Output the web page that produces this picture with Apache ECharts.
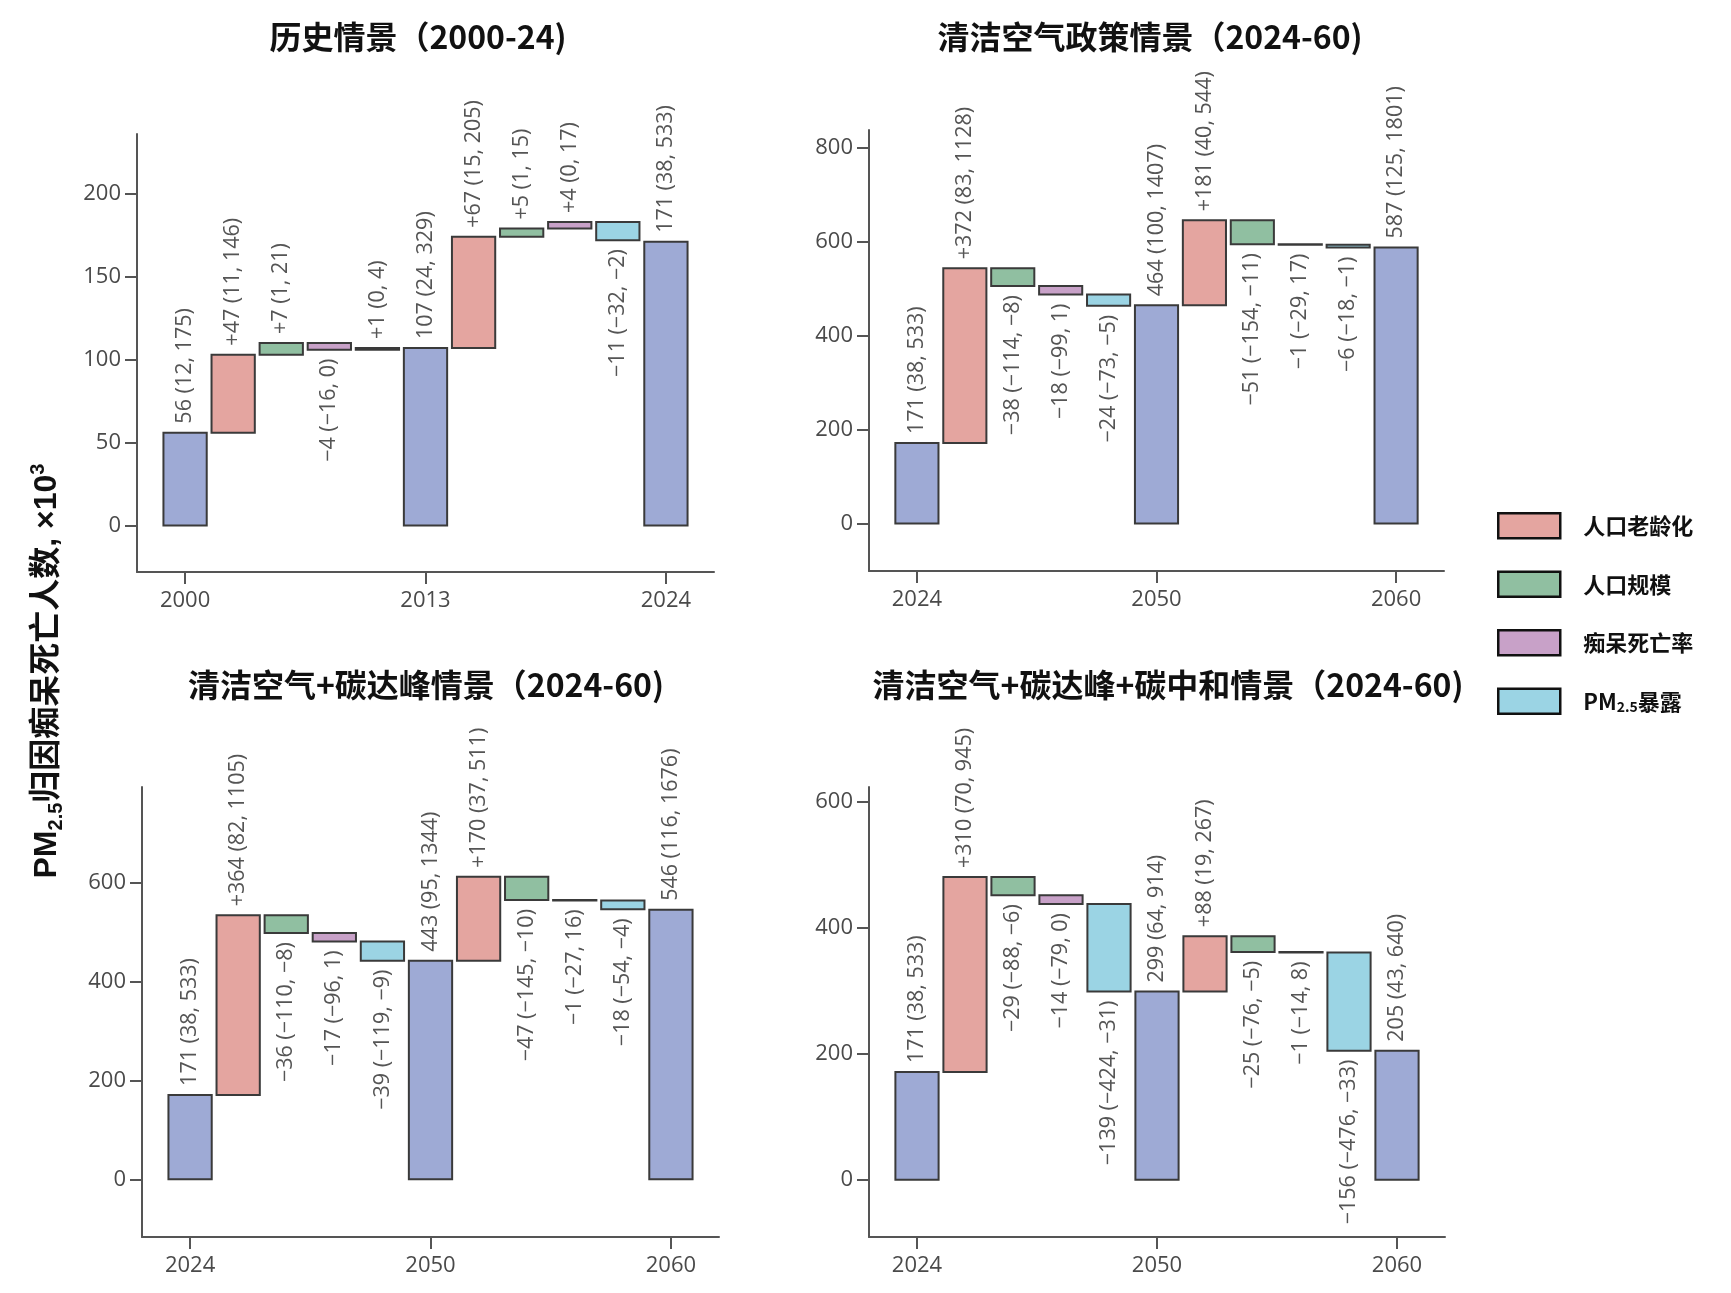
<!DOCTYPE html>
<html>
<head>
<meta charset="utf-8">
<script src="https://cdn.jsdelivr.net/npm/echarts@6/dist/echarts.min.js"></script>
<style>
html, body { margin: 0; padding: 0; background: #fff; }
#main { width: 1731px; height: 1293px; }
</style>
</head>
<body>
<div id="main"></div>
<script>
// order of the bars inside every panel
var kinds = ['total', 'aging', 'pop', 'mort', 'pm', 'total', 'aging', 'pop', 'mort', 'pm', 'total'];
var kindNames = { total: '总数', aging: '人口老龄化', pop: '人口规模', mort: '痴呆死亡率', pm: 'PM2.5暴露' };
var legendNames = ['人口老龄化', '人口规模', '痴呆死亡率', 'PM2.5暴露'];

// 历史情景 (2000-24)
var hist_years = ['2000', '2013', '2024'];
var hist_mid = [56, 47, 7, -4, 1, 107, 67, 5, 4, -11, 171];
var hist_lo  = [12, 11, 1, -16, 0, 24, 15, 1, 0, -32, 38];
var hist_hi  = [175, 146, 21, 0, 4, 329, 205, 15, 17, -2, 533];
var hist_ticks = [0, 50, 100, 150, 200];

// 清洁空气政策情景 (2024-60)
var scen_years = ['2024', '2050', '2060'];
var clean_mid = [171, 372, -38, -18, -24, 464, 181, -51, -1, -6, 587];
var clean_lo  = [38, 83, -114, -99, -73, 100, 40, -154, -29, -18, 125];
var clean_hi  = [533, 1128, -8, 1, -5, 1407, 544, -11, 17, -1, 1801];
var clean_ticks = [0, 200, 400, 600, 800];

// 清洁空气+碳达峰情景 (2024-60)
var peak_mid = [171, 364, -36, -17, -39, 443, 170, -47, -1, -18, 546];
var peak_lo  = [38, 82, -110, -96, -119, 95, 37, -145, -27, -54, 116];
var peak_hi  = [533, 1105, -8, 1, -9, 1344, 511, -10, 16, -4, 1676];
var peak_ticks = [0, 200, 400, 600];

// 清洁空气+碳达峰+碳中和情景 (2024-60)
var neutral_mid = [171, 310, -29, -14, -139, 299, 88, -25, -1, -156, 205];
var neutral_lo  = [38, 70, -88, -79, -424, 64, 19, -76, -14, -476, 43];
var neutral_hi  = [533, 945, -6, 0, -31, 914, 267, -5, 8, -33, 640];
var neutral_ticks = [0, 200, 400, 600];

var colors = {
  total: '#9eaad5',
  aging: '#e4a5a0',
  pop: '#90bfa1',
  mort: '#c8a1c8',
  pm: '#9bd4e4'
};

var panels = [
  { title: '历史情景（2000-24)', years: hist_years, mid: hist_mid, lo: hist_lo, hi: hist_hi, ticks: hist_ticks,
    ymin: -28, ymax: 236, grid: { left: 137, top: 134, width: 577, height: 438 }, tx: 418, ty: 21 },
  { title: '清洁空气政策情景（2024-60)', years: scen_years, mid: clean_mid, lo: clean_lo, hi: clean_hi, ticks: clean_ticks,
    ymin: -101, ymax: 837, grid: { left: 869, top: 130, width: 575, height: 441 }, tx: 1150, ty: 21 },
  { title: '清洁空气+碳达峰情景（2024-60)', years: scen_years, mid: peak_mid, lo: peak_lo, hi: peak_hi, ticks: peak_ticks,
    ymin: -117, ymax: 795, grid: { left: 142, top: 787, width: 577, height: 450 }, tx: 426, ty: 669 },
  { title: '清洁空气+碳达峰+碳中和情景（2024-60)', years: scen_years, mid: neutral_mid, lo: neutral_lo, hi: neutral_hi, ticks: neutral_ticks,
    ymin: -91, ymax: 624, grid: { left: 869, top: 787, width: 576, height: 450 }, tx: 1168, ty: 669 }
];

function fmt(v) {
  return v < 0 ? '\u2212' + Math.abs(v) : String(v);
}

function labelText(p, i) {
  var head;
  if (kinds[i] === 'total') head = String(p.mid[i]);
  else head = p.mid[i] < 0 ? fmt(p.mid[i]) : '+' + p.mid[i];
  return head + ' (' + fmt(p.lo[i]) + ', ' + fmt(p.hi[i]) + ')';
}

// start / end of every bar of the waterfall
function steps(mid) {
  var out = [], run = 0;
  for (var i = 0; i < mid.length; i++) {
    if (kinds[i] === 'total') {
      out.push([i, 0, mid[i]]);
      run = mid[i];
    } else {
      out.push([i, run, run + mid[i]]);
      run += mid[i];
    }
  }
  return out;
}

function makeRender(labels) {
  return function (params, api) {
    var x = api.value(0);
    var a = api.value(1), b = api.value(2);
    var up = api.value(3) >= 0;
    var lo = Math.min(a, b), hi = Math.max(a, b);
    var pTop = api.coord([x - 0.45, hi]);
    var pBot = api.coord([x + 0.45, lo]);
    var cx = api.coord([x, 0])[0];
    return {
      type: 'group',
      children: [{
        type: 'rect',
        shape: { x: pTop[0], y: pTop[1], width: pBot[0] - pTop[0], height: Math.max(pBot[1] - pTop[1], 0.5) },
        style: { fill: api.visual('color'), stroke: '#3a3a3a', lineWidth: 2 }
      }, {
        type: 'text',
        x: cx,
        y: up ? pTop[1] - 9 : pBot[1] + 9,
        rotation: Math.PI / 2,
        style: {
          text: labels[params.dataIndex],
          align: up ? 'left' : 'right',
          verticalAlign: 'middle',
          fill: '#555',
          font: '21.5px "Open Sans"'
        }
      }]
    };
  };
}

var grids = [], xAxes = [], yAxes = [], series = [], titles = [];
var axisColor = '#555';

panels.forEach(function (p, gi) {
  grids.push(p.grid);
  titles.push({
    text: p.title, left: p.tx, top: p.ty, textAlign: 'center', padding: 0,
    textStyle: { fontSize: 32, fontWeight: 'bold', color: '#111', fontFamily: '"Noto Sans CJK SC"' }
  });
  var yrs = p.years;
  xAxes.push({
    type: 'value', gridIndex: gi, min: -1, max: 11,
    splitLine: { show: false },
    axisLine: { show: true, onZero: false, lineStyle: { color: axisColor, width: 2 } },
    axisTick: { show: true, length: 12, customValues: [0, 5, 10], lineStyle: { color: axisColor, width: 2 } },
    axisLabel: {
      customValues: [0, 5, 10], margin: 18, color: '#4a4a4a', fontSize: 22, fontFamily: '"Open Sans"',
      formatter: function (v) { return yrs[Math.round(v / 5)]; }
    }
  });
  yAxes.push({
    type: 'value', gridIndex: gi, min: p.ymin, max: p.ymax,
    splitLine: { show: false },
    axisLine: { show: true, onZero: false, lineStyle: { color: axisColor, width: 2 } },
    axisTick: { show: true, length: 12, customValues: p.ticks, lineStyle: { color: axisColor, width: 2 } },
    axisLabel: { customValues: p.ticks, margin: 16, color: '#4a4a4a', fontSize: 22, fontFamily: '"Open Sans"' }
  });

  var st = steps(p.mid);
  ['total', 'aging', 'pop', 'mort', 'pm'].forEach(function (k) {
    var data = [], labels = [];
    for (var i = 0; i < kinds.length; i++) {
      if (kinds[i] !== k) continue;
      var sign = (k === 'total' || p.mid[i] >= 0) ? 1 : -1;
      data.push([st[i][0], st[i][1], st[i][2], sign]);
      labels.push(labelText(p, i));
    }
    series.push({
      type: 'custom',
      name: kindNames[k],
      xAxisIndex: gi,
      yAxisIndex: gi,
      itemStyle: { color: colors[k] },
      encode: { x: 0, y: [1, 2] },
      renderItem: makeRender(labels),
      data: data,
      silent: true,
      animation: false
    });
  });
});

var chart = echarts.init(document.getElementById('main'));
chart.setOption({
  backgroundColor: '#fff',
  animation: false,
  title: titles,
  grid: grids,
  xAxis: xAxes,
  yAxis: yAxes,
  legend: {
    orient: 'vertical',
    left: 1497,
    top: 512,
    padding: 0,
    itemWidth: 62,
    itemHeight: 25,
    itemGap: 31,
    icon: 'rect',
    selectedMode: false,
    data: legendNames.map(function (n, i) {
      var k = ['aging', 'pop', 'mort', 'pm'][i];
      return { name: n, itemStyle: { color: colors[k], borderColor: '#111', borderWidth: 2.5 } };
    }),
    formatter: function (n) {
      if (n === 'PM2.5暴露') return '{b|PM}{s|2.5}{b|暴露}';
      return '{b|' + n + '}';
    },
    textStyle: {
      padding: [0, 0, 0, 18],
      rich: {
        b: { fontSize: 22, fontWeight: 'bold', color: '#111', fontFamily: '"Noto Sans CJK SC"', lineHeight: 25 },
        s: { fontSize: 14, fontWeight: 'bold', color: '#111', fontFamily: '"Noto Sans CJK SC"', lineHeight: 14, verticalAlign: 'bottom' }
      }
    }
  },
  graphic: [{
    type: 'text',
    x: 47,
    y: 671,
    rotation: Math.PI / 2,
    style: {
      text: '{a|PM}{s|2.5}{a|归因痴呆死亡人数, ×10}{p|3}',
      align: 'center',
      verticalAlign: 'middle',
      rich: {
        a: { fontSize: 32, fontWeight: 'bold', fill: '#111', fontFamily: '"Liberation Sans", "Noto Sans CJK SC"', lineHeight: 38 },
        s: { fontSize: 20, fontWeight: 'bold', fill: '#111', fontFamily: '"Liberation Sans"', lineHeight: 20, verticalAlign: 'bottom' },
        p: { fontSize: 20, fontWeight: 'bold', fill: '#111', fontFamily: '"Liberation Sans"', lineHeight: 20, verticalAlign: 'top' }
      }
    }
  }],
  series: series
});
</script>
</body>
</html>
